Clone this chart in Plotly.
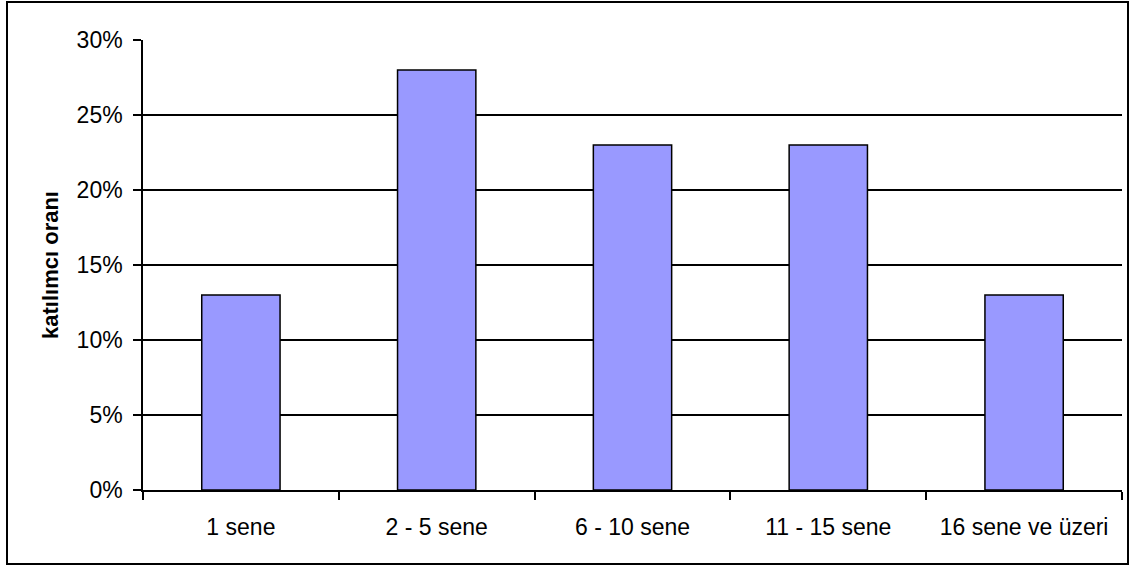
import plotly.graph_objects as go

categories = ["1 sene", "2 - 5 sene", "6 - 10 sene", "11 - 15 sene", "16 sene ve üzeri"]
values = [0.13, 0.28, 0.23, 0.23, 0.13]
y_ticks = [0, 0.05, 0.10, 0.15, 0.20, 0.25, 0.30]
y_title = "katılımcı oranı"

W, H = 1135, 567
L, R, T, B = 143, 13, 40, 77
pw, ph = W - L - R, H - T - B

fig = go.Figure(go.Bar(
    x=categories, y=values, width=0.4,
    marker=dict(color="#9999FF", line=dict(color="black", width=1.5)),
))

def px_x(x):
    return (x - L) / pw

def px_y(y):
    return (H - B - y) / ph

fig.update_layout(
    width=W, height=H,
    margin=dict(l=L, r=R, t=T, b=B),
    paper_bgcolor="white", plot_bgcolor="white",
    font=dict(family="Liberation Sans, Arial", size=23, color="black"),
    showlegend=False,
    xaxis=dict(
        showline=True, linecolor="black", linewidth=1.5,
        ticks="outside", tickson="boundaries", ticklen=8, tickwidth=1.5, tickcolor="black",
        showgrid=False, ticklabelstandoff=16,
    ),
    yaxis=dict(
        range=[0, 0.30], tickvals=y_ticks, tickformat=".0%",
        showline=True, linecolor="black", linewidth=1.5,
        ticks="outside", ticklen=8, tickwidth=1.5, tickcolor="black",
        showgrid=True, gridcolor="black", gridwidth=1.5,
        zeroline=False, ticklabelstandoff=6,
        title=dict(text=y_title, font=dict(size=22, family="Liberation Sans, Arial", weight="bold"), standoff=12),
    ),
    shapes=[dict(
        type="rect", xref="paper", yref="paper",
        x0=px_x(7), x1=px_x(1128), y0=px_y(564), y1=px_y(2),
        line=dict(color="black", width=2), fillcolor="rgba(0,0,0,0)", layer="below",
    )],
)

fig.write_html("out.html", config={"displayModeBar": False},
               post_script="document.body.style.margin='0';document.body.style.overflow='hidden';")
